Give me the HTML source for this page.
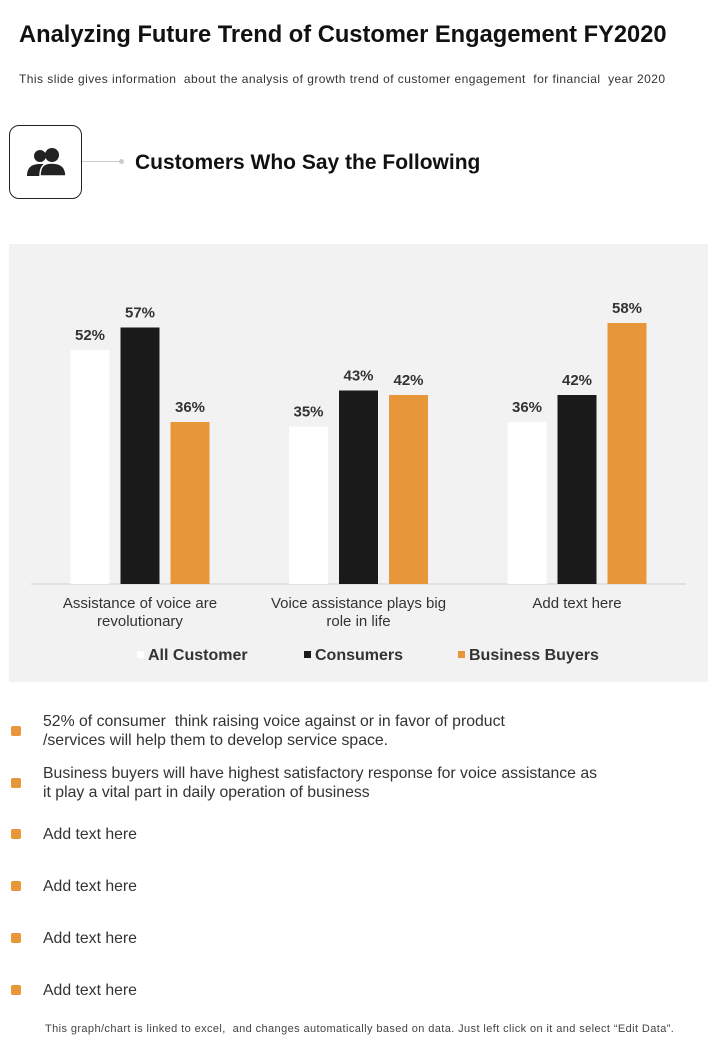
<!DOCTYPE html>
<html><head><meta charset="utf-8">
<style>
body{margin:0;width:720px;height:1040px;background:#fff;font-family:"Liberation Sans",sans-serif;position:relative;overflow:hidden}
.abs{position:absolute}
.bul{position:absolute;left:11px;width:10px;height:10px;background:#e8963a;border-radius:2px}
.bt{position:absolute;left:43px;font-size:15.8px;color:#333;line-height:19px}
</style></head><body>
<div class="abs" style="left:19px;top:22px;font-size:23.7px;font-weight:bold;color:#111">Analyzing Future Trend of Customer Engagement FY2020</div>
<div class="abs" style="left:19px;top:72px;font-size:12px;color:#333;letter-spacing:0.45px">This slide gives information &nbsp;about the analysis of growth trend of customer engagement &nbsp;for financial &nbsp;year 2020</div>
<div class="abs" style="left:9px;top:125px;width:71px;height:72px;border:1.5px solid #222;border-radius:10px">
<svg width="71" height="72" viewBox="0 0 71 72"><g fill="#222">
<circle cx="30" cy="30" r="6"/><path d="M17 50 C17 41 22 38 30 38 C38 38 42 41 42 50Z"/>
<circle cx="42" cy="29" r="7"/><path d="M30 50 C30 40 34 37 42 37 C50 37 56 40 56 50Z" stroke="#fff" stroke-width="1.5"/>
</g></svg></div>
<div class="abs" style="left:82px;top:161px;width:38px;height:1px;background:#ccc"></div>
<div class="abs" style="left:119px;top:159px;width:5px;height:5px;border-radius:50%;background:#ccc"></div>
<div class="abs" style="left:135px;top:151px;font-size:21px;font-weight:bold;color:#111">Customers Who Say the Following</div>
<div class="abs" style="left:9px;top:244px;width:699px;height:438px;background:#f2f2f2"></div>
<svg id="chart" class="abs" style="left:0;top:0" width="720" height="700"></svg>
<div class="bul" style="top:726px"></div>
<div class="bt" style="top:712px">52% of consumer &nbsp;think raising voice against or in favor of product<br>/services will help them to develop service space.</div>
<div class="bul" style="top:778px"></div>
<div class="bt" style="top:764px">Business buyers will have highest satisfactory response for voice assistance as<br>it play a vital part in daily operation of business</div>
<div class="bul" style="top:829px"></div>
<div class="bt" style="top:825px">Add text here</div>
<div class="bul" style="top:881px"></div>
<div class="bt" style="top:877px">Add text here</div>
<div class="bul" style="top:933px"></div>
<div class="bt" style="top:929px">Add text here</div>
<div class="bul" style="top:985px"></div>
<div class="bt" style="top:981px">Add text here</div>
<div class="abs" style="left:45px;top:1023px;font-size:11px;color:#444;letter-spacing:0.4px">This graph/chart is linked to excel, &nbsp;and changes automatically based on data. Just left click on it and select “Edit Data”.</div>
<script>
const categories=[["Assistance of voice are","revolutionary"],["Voice assistance plays big","role in life"],["Add text here"]];
const seriesNames=["All Customer","Consumers","Business Buyers"];
const allCustomer=[52,35,36];
const consumers=[57,43,42];
const businessBuyers=[36,42,58];
const series=[allCustomer,consumers,businessBuyers];
const colors=["#ffffff","#1a1a1a","#e8963a"];
const svg=document.getElementById('chart');
const NS='http://www.w3.org/2000/svg';
const base=584, pxPer=4.5;
const y=v=>base-v*pxPer;
const groupX=i=>140+i*218.5;
function mk(t,a){const e=document.createElementNS(NS,t);for(const k in a)e.setAttribute(k,a[k]);svg.appendChild(e);return e;}
const ax=mk('line',{x1:31,x2:686,y1:base,y2:base,stroke:'#d0d0d0','stroke-width':1});


categories.forEach((c,i)=>{
  series.forEach((s,j)=>{
    const cx=groupX(i)+(j-1)*50;
    const r=mk('rect',{x:cx-19.5,y:y(s[i]),width:39,height:s[i]*pxPer,fill:colors[j]});
    
    
    const t=mk('text',{x:cx,y:y(s[i])-10,'text-anchor':'middle','font-size':15,'font-weight':'bold',fill:'#333'});
    t.textContent=s[i]+'%';
    
    
  });
  c.forEach((ln,k)=>{
    const t=mk('text',{x:groupX(i),y:608+k*18,'text-anchor':'middle','font-size':15,fill:'#333'});
    t.textContent=ln;
    
    
  });
});
const legX=[137,304,458];
seriesNames.forEach((n,j)=>{
  const r=mk('rect',{x:legX[j],y:651,width:7,height:7,fill:colors[j]});
  
  
  const t=mk('text',{x:legX[j]+11,y:660,'font-size':16,'font-weight':'bold',fill:'#333'});
  t.textContent=n;
  
  
});
</script>
</body></html>
